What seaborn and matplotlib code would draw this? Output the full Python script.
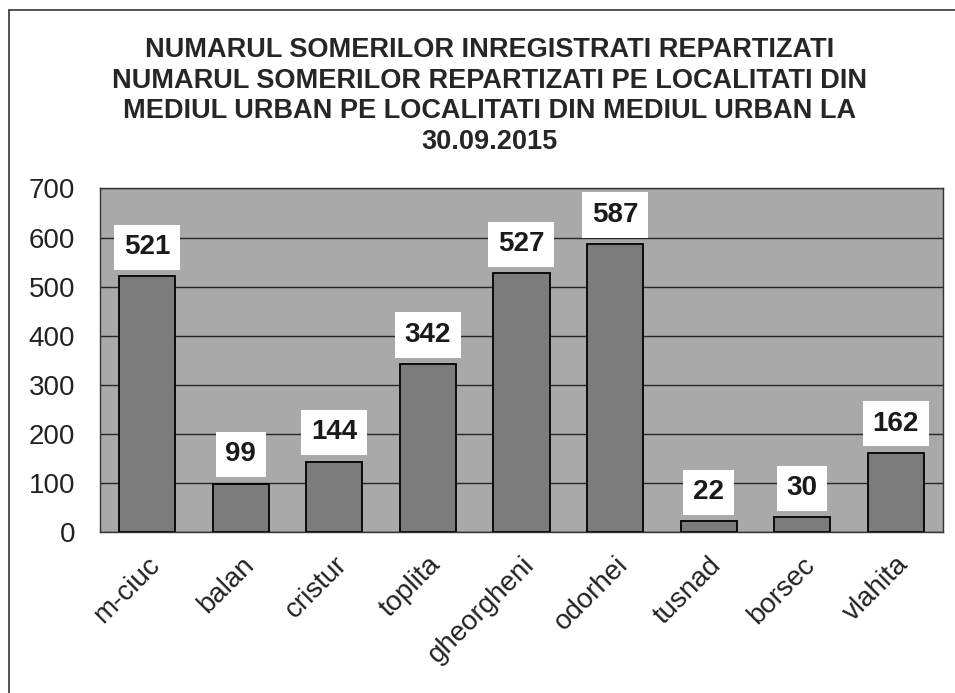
import matplotlib
matplotlib.use("Agg")
import matplotlib.pyplot as plt
import seaborn as sns
import pandas as pd
from matplotlib.lines import Line2D

# data
localitati = ['m-ciuc', 'balan', 'cristur', 'toplita', 'gheorgheni',
              'odorhei', 'tusnad', 'borsec', 'vlahita']
someri = [521, 99, 144, 342, 527, 587, 22, 30, 162]
y_ticks = [0, 100, 200, 300, 400, 500, 600, 700]

titlu = ("NUMARUL SOMERILOR INREGISTRATI REPARTIZATI\n"
         "NUMARUL SOMERILOR REPARTIZATI PE LOCALITATI DIN\n"
         "MEDIUL URBAN PE LOCALITATI DIN MEDIUL URBAN LA\n"
         "30.09.2015")

df = pd.DataFrame({'localitate': localitati, 'someri': someri})

sns.set_style("white")
plt.rcParams['font.family'] = ['Liberation Sans', 'DejaVu Sans']

fig = plt.figure(figsize=(9.55, 6.93), dpi=100)
ax = fig.add_axes([0.105, 0.232, 0.882, 0.496])
ax.set_facecolor('#a9a9a9')

sns.barplot(data=df, x='localitate', y='someri', color='#7c7c7c',
            saturation=1, edgecolor='black', linewidth=1.3, width=0.6, ax=ax)

ax.set_ylim(0, 700)
ax.set_yticks(y_ticks)
ax.yaxis.grid(True, color='#262626', linewidth=1.0)
ax.set_axisbelow(True)
ax.set_xlabel('')
ax.set_ylabel('')
for s in ax.spines.values():
    s.set_color('#333333')
    s.set_linewidth(1.0)

ax.tick_params(axis='y', labelsize=20, length=0, pad=18, labelcolor='#222222')
ax.tick_params(axis='x', labelsize=20, length=0, pad=14, labelcolor='#222222')
plt.setp(ax.get_xticklabels(), rotation=45, ha='right', rotation_mode='anchor')

# value labels in white boxes
for i, v in enumerate(someri):
    ax.annotate(str(v), (i, v), xytext=(0, 21), textcoords='offset points',
                ha='center', va='center', fontsize=20, fontweight='bold',
                color='#1a1a1a',
                bbox=dict(boxstyle='square,pad=0.35', facecolor='white',
                          edgecolor='none'))

fig.text(0.513, 0.946, titlu, ha='center', va='top', fontsize=19.5,
         fontweight='bold', color='#262626', linespacing=1.22)

# outer border of the scanned chart
fig.add_artist(Line2D([0.009, 0.009], [0, 0.986], color='#333333', linewidth=1.2))
fig.add_artist(Line2D([0.009, 1.0], [0.986, 0.986], color='#333333', linewidth=1.2))

fig.savefig('out.png', dpi=100)
